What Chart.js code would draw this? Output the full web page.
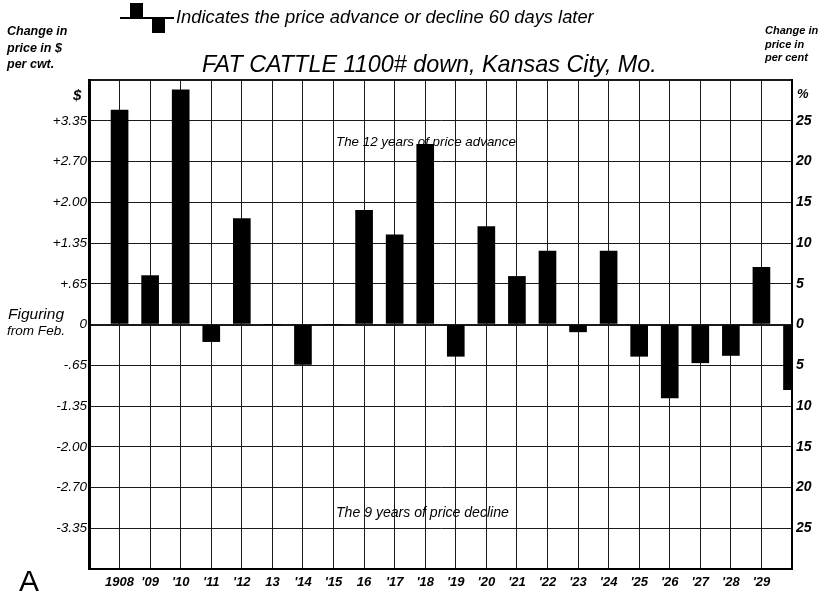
<!DOCTYPE html>
<html>
<head>
<meta charset="utf-8">
<script src="https://cdn.jsdelivr.net/npm/chart.js@4.4.1/dist/chart.umd.min.js"></script>
<style>
  html, body { margin: 0; padding: 0; background: #fff; }
  #myChart { display: block; }
</style>
</head>
<body>
<canvas id="myChart" width="832" height="596"></canvas>
<script>
// years on the x axis (1930 has no label in the original)
const years = [1908, 1909, 1910, 1911, 1912, 1913, 1914, 1915, 1916, 1917, 1918, 1919,
               1920, 1921, 1922, 1923, 1924, 1925, 1926, 1927, 1928, 1929, 1930];
const yearLabels = ["1908", "'09", "'10", "'11", "'12", "13", "'14", "'15", "16", "'17", "'18", "'19",
                    "'20", "'21", "'22", "'23", "'24", "'25", "'26", "'27", "'28", "'29", ""];

// price change 60 days later, in per cent
const priceChange = [26.3, 6.0, 28.8, -2.1, 13.0, 0, -4.9, 0, 14.0, 11.0, 22.1, -3.9,
                     12.0, 5.9, 9.0, -0.9, 9.0, -3.9, -9.0, -4.7, -3.8, 7.0, -8.0];

// tick labels
const tickValues = [25, 20, 15, 10, 5, 0, -5, -10, -15, -20, -25];
const dollarLabels = ['+3.35', '+2.70', '+2.00', '+1.35', '+.65', '0', '-.65', '-1.35', '-2.00', '-2.70', '-3.35'];
const percentLabels = ['25', '20', '15', '10', '5', '0', '5', '10', '15', '20', '25'];

const FAM = '"Liberation Sans", "DejaVu Sans", sans-serif';

// fit a string into a given width
function fitText(ctx, text, x, y, w, style) {
    ctx.font = style + ' 20px ' + FAM;
    const size = 20 * w / ctx.measureText(text).width;
    ctx.font = style + ' ' + size.toFixed(2) + 'px ' + FAM;
    ctx.fillText(text, x, y);
}

const textPlugin = {
    id: 'chartTexts',
    afterDraw(chart) {
        const ctx = chart.ctx;
        const xs = chart.scales.x, ys = chart.scales.y;
        ctx.save();
        ctx.fillStyle = '#000';
        ctx.strokeStyle = '#000';
        ctx.textBaseline = 'middle';
        ctx.textAlign = 'left';

        // legend glyph: one bar up, one bar down
        ctx.lineWidth = 2;
        ctx.beginPath();
        ctx.moveTo(120, 18);
        ctx.lineTo(174, 18);
        ctx.stroke();
        ctx.fillRect(130, 3, 13, 15);
        ctx.fillRect(152, 18, 13, 15);
        fitText(ctx, 'Indicates the price advance or decline 60 days later', 176, 18, 418, 'italic');

        // title
        fitText(ctx, 'FAT CATTLE 1100# down, Kansas City, Mo.', 202, 65, 455, 'italic');

        // left header
        ctx.font = 'italic bold 12.5px ' + FAM;
        ctx.fillText('Change in', 7, 32);
        ctx.fillText('price in $', 7, 49);
        ctx.fillText('per cwt.', 7, 65);

        // right header
        ctx.font = 'italic bold 11px ' + FAM;
        ctx.fillText('Change in', 765, 31);
        ctx.fillText('price in', 765, 45);
        ctx.fillText('per cent', 765, 58);

        // unit marks at the top of both axes
        ctx.font = 'italic bold 15px ' + FAM;
        ctx.fillText('$', 73, 96);
        ctx.font = 'italic bold 13px ' + FAM;
        ctx.fillText('%', 797, 94);

        // left of zero line
        fitText(ctx, 'Figuring', 8, 315, 56, 'italic');
        fitText(ctx, 'from Feb.', 7, 331, 58, 'italic');

        // panel letter
        ctx.font = '30px ' + FAM;
        ctx.fillText('A', 19, 583);

        // notes inside the plot
        fitText(ctx, 'The 12 years of price advance', xs.getPixelForValue(1915.08), ys.getPixelForValue(22.4), 180, 'italic');
        fitText(ctx, 'The 9 years of price decline', xs.getPixelForValue(1915.08), ys.getPixelForValue(-23.1), 173, 'italic');

        ctx.restore();
    }
};

const config = {
    type: 'bar',
    data: {
        datasets: [{
            label: 'Price change',
            data: years.map((yr, i) => ({x: yr, y: priceChange[i]})),
            backgroundColor: '#000',
            borderWidth: 0,
            barThickness: 17,
            clip: 0,
            yAxisID: 'y'
        }]
    },
    options: {
        responsive: false,
        animation: false,
        devicePixelRatio: 1,
        layout: {padding: {top: 80, left: 0, right: 0, bottom: 0}},
        plugins: {
            legend: {display: false},
            title: {display: false},
            tooltip: {enabled: false}
        },
        scales: {
            x: {
                type: 'linear',
                min: 1907,
                max: 1930,
                offset: false,
                ticks: {
                    stepSize: 1,
                    autoSkip: false,
                    maxRotation: 0,
                    padding: 6,
                    color: '#000',
                    font: {family: FAM, style: 'italic', weight: 'bold', size: 13},
                    callback: v => {
                        const i = years.indexOf(v);
                        return i < 0 ? '' : yearLabels[i];
                    }
                },
                grid: {offset: false, color: '#1a1a1a', lineWidth: 1, drawTicks: false},
                border: {color: '#000', width: 2},
                afterFit: s => { s.height = 27; }
            },
            y: {
                type: 'linear',
                position: 'left',
                min: -30,
                max: 30,
                ticks: {
                    stepSize: 5,
                    padding: 2,
                    color: '#000',
                    font: {family: FAM, style: 'italic', size: 13.5},
                    callback: v => {
                        const i = tickValues.indexOf(v);
                        return i < 0 ? '' : dollarLabels[i];
                    }
                },
                grid: {
                    color: '#1a1a1a',
                    drawTicks: false,
                    lineWidth: c => (c.tick && (c.tick.value === 0 || c.tick.value === 30)) ? 2 : 1
                },
                border: {color: '#000', width: 3},
                afterFit: s => { s.width = 89; }
            },
            y2: {
                type: 'linear',
                position: 'right',
                min: -30,
                max: 30,
                ticks: {
                    stepSize: 5,
                    padding: 4,
                    color: '#000',
                    font: {family: FAM, style: 'italic', weight: 'bold', size: 14},
                    callback: v => {
                        const i = tickValues.indexOf(v);
                        return i < 0 ? '' : percentLabels[i];
                    }
                },
                grid: {drawOnChartArea: false, drawTicks: false},
                border: {color: '#000', width: 2},
                afterFit: s => { s.width = 40; }
            }
        }
    },
    plugins: [textPlugin]
};

const myChart = new Chart(document.getElementById('myChart'), config);
</script>
</body>
</html>
